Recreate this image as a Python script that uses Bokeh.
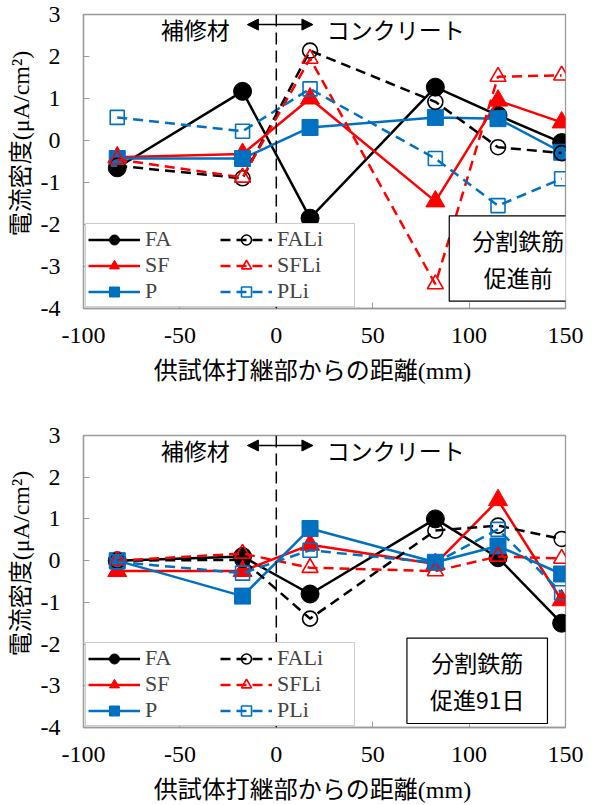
from bokeh.plotting import figure
from bokeh.layouts import column
from bokeh.models import (FixedTicker, Legend, LegendItem, Label, Arrow,
                          NormalHead, Span, Range1d, PrintfTickFormatter)
from bokeh.embed import file_html
from bokeh.resources import INLINE

# distance from the construction joint of the specimen (mm)
distance = [-82.5, -17.5, 17.5, 82.5, 115, 148]

# current density (uA/cm2) before accelerated corrosion
fa_before = [-0.65, 1.17, -1.85, 1.27, 0.6, -0.05]
sf_before = [-0.4, -0.32, 1.0, -1.45, 0.95, 0.43]
p_before = [-0.43, -0.43, 0.31, 0.55, 0.52, -0.28]
fali_before = [-0.6, -0.9, 2.14, 0.92, -0.16, -0.3]
sfli_before = [-0.45, -0.88, 1.95, -3.42, 1.52, 1.55]
pli_before = [0.55, 0.22, 1.23, -0.43, -1.55, -0.91]

# current density (uA/cm2) after 91 days of accelerated corrosion
fa_91d = [0.0, 0.1, -0.8, 1.0, 0.07, -1.5]
sf_91d = [-0.25, -0.25, 0.38, -0.08, 1.45, -0.95]
p_91d = [0.0, -0.85, 0.77, -0.04, 0.35, -0.32]
fali_91d = [0.0, 0.02, -1.39, 0.72, 0.84, 0.52]
sfli_91d = [0.0, 0.17, -0.17, -0.25, 0.1, 0.05]
pli_91d = [-0.03, -0.3, 0.25, -0.05, 0.75, -0.77]

x_ticks = [-100, -50, 0, 50, 100, 150]
y_ticks = [-4, -3, -2, -1, 0, 1, 2, 3]

series_names = ["FA", "SF", "P", "FALi", "SFLi", "PLi"]
series_colors = ["#000000", "#FF0000", "#0070C0", "#000000", "#FF0000", "#0070C0"]
series_markers = ["circle", "triangle", "square", "circle", "triangle", "square"]

SERIF = "Liberation Serif"
GOTHIC = "Noto Sans CJK JP"
MIXED = "Liberation Serif, Noto Sans CJK JP"
FRAME_GREY = "#9a9a9a"

# joint position and the repair / concrete arrow
joint_x = 0
arrow_x = [-15, 19]
arrow_y = 2.76
repair_label = ("補修材", -42, 2.65)
concrete_label = ("コンクリート", 62, 2.65)


def build(values, tag_text, tag_x, tag_y, height, top, bottom):
    p = figure(width=594, height=height, output_backend="svg", toolbar_location=None,
               x_range=Range1d(-100, 150), y_range=Range1d(-4, 3),
               min_border_left=83, min_border_right=29,
               min_border_top=top, min_border_bottom=bottom)
    p.background_fill_color = "white"
    p.border_fill_color = "white"
    p.outline_line_color = FRAME_GREY
    p.outline_line_width = 1.3
    p.xgrid.visible = False
    p.ygrid.visible = False

    p.xaxis.ticker = FixedTicker(ticks=x_ticks)
    p.yaxis.ticker = FixedTicker(ticks=y_ticks)
    for ax in (p.xaxis[0], p.yaxis[0]):
        ax.formatter = PrintfTickFormatter(format="%d")
        ax.axis_line_color = FRAME_GREY
        ax.axis_line_width = 1.3
        ax.major_tick_line_color = FRAME_GREY
        ax.major_tick_in = 6
        ax.major_tick_out = 0
        ax.minor_tick_line_color = None
        ax.major_label_text_font = SERIF
        ax.major_label_text_font_size = "24px"
        ax.major_label_text_color = "black"
        ax.axis_label_text_font = MIXED
        ax.axis_label_text_font_style = "normal"
        ax.axis_label_text_color = "black"
    p.xaxis.major_label_standoff = 19
    p.yaxis.major_label_standoff = 23
    p.xaxis.axis_label = "供試体打継部からの距離(mm)" + "\u00a0" * 4
    p.xaxis.axis_label_text_font_size = "24px"
    p.xaxis.axis_label_standoff = 12
    p.yaxis.axis_label = "\u00a0" * 6 + "電流密度(μA/cm²)"
    p.yaxis.axis_label_text_font_size = "24px"
    p.yaxis.axis_label_standoff = 4

    # boundary between repair material and concrete
    p.add_layout(Span(location=joint_x, dimension="height", line_color="black",
                      line_width=1.5, line_dash="12 6"))

    items = []
    for name, vals, color, marker in zip(series_names, values, series_colors, series_markers):
        hollow = name.endswith("Li")
        dash = "10 6" if hollow else "solid"
        r_line = p.line(distance, vals, line_color=color, line_width=2.5, line_dash=dash)
        if hollow:
            size = {"circle": 15, "triangle": 16, "square": 14}[marker]
            r_mark = p.scatter(distance, vals, marker=marker, size=size,
                               fill_color=None, line_color=color, line_width=1.6)
        else:
            size = {"circle": 18, "triangle": 19, "square": 16}[marker]
            r_mark = p.scatter(distance, vals, marker=marker, size=size,
                               fill_color=color, line_color=color, line_width=1)
        items.append(LegendItem(label=name, renderers=[r_line, r_mark]))

    legend = Legend(items=items, location=(2, 1), ncols=2,
                    label_text_font=SERIF, label_text_font_size="22px",
                    label_text_line_height=1.0,
                    glyph_width=52, glyph_height=25, label_height=25,
                    label_width=75, label_standoff=5, spacing=0, padding=2,
                    margin=0, border_line_color=FRAME_GREY, border_line_width=1.3,
                    background_fill_color="white", background_fill_alpha=1.0)
    p.add_layout(legend)

    p.add_layout(Arrow(x_start=arrow_x[0], y_start=arrow_y, x_end=arrow_x[1], y_end=arrow_y,
                       line_color="black", line_width=1.5,
                       start=NormalHead(size=11, fill_color="black", line_color="black"),
                       end=NormalHead(size=11, fill_color="black", line_color="black")))
    for text, lx, ly in (repair_label, concrete_label):
        p.add_layout(Label(x=lx, y=ly, text=text, text_align="center",
                           text_baseline="middle", text_font=GOTHIC,
                           text_font_size="23px", text_color="black"))

    p.add_layout(Label(x=tag_x, y=tag_y, text=tag_text, text_align="center",
                       text_baseline="middle", text_font=GOTHIC, text_font_size="23px",
                       text_line_height=1.1, text_color="black",
                       border_line_color="black", border_line_width=1.2,
                       background_fill_color="white", padding=(23, 23, 7, 7)))
    return p


top_plot = build([fa_before, sf_before, p_before, fali_before, sfli_before, pli_before],
                 "分割鉄筋\n促進前", 125.5, -2.81, 408, 14, 100)
bottom_plot = build([fa_91d, sf_91d, p_91d, fali_91d, sfli_91d, pli_91d],
                    "分割鉄筋\n促進91日", 104.2, -2.88, 397, 27, 77)

page = column(top_plot, bottom_plot, spacing=0)
open("out.html", "w").write(file_html(page, INLINE))
